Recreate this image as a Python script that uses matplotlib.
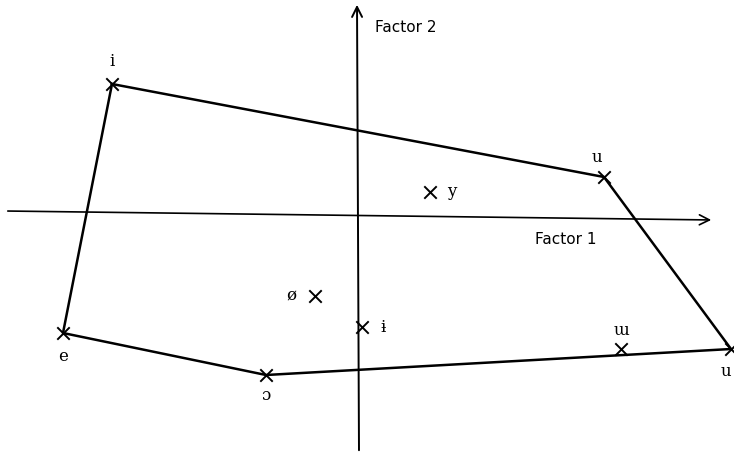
import matplotlib.pyplot as plt

# Puntuaciones factoriales (factor 1, factor 2) de cada vocal
vocales = ["i", "u", "y", "ø", "ɨ", "e", "ɔ", "ɯ", "u"]
factor1 = [-2.45, 2.47, 0.73, -0.42, 0.05, -2.94, -0.91, 2.64, 3.74]
factor2 = [1.29, 0.36, 0.21, -0.83, -1.14, -1.20, -1.62, -1.36, -1.36]

# contorno: i -> u -> u -> ɔ -> e -> i
contorno = [0, 1, 8, 6, 5, 0]

# desplazamiento de cada etiqueta respecto a su punto (en puntos)
offsets = [(0, 16), (-5, 14), (16, 0), (-17, 0), (15, 0), (0, -17), (0, -15), (0, 13), (-4, -16)]

fig = plt.figure(figsize=(7.34, 4.54), dpi=100)
ax = fig.add_axes([0, 0, 1, 1])
ax.set_xlim(-3.57, 3.77)
ax.set_ylim(-2.41, 2.13)
ax.axis("off")

# ejes con flechas
ax.annotate("", xy=(3.57, -0.07), xytext=(-3.52, 0.02),
            arrowprops=dict(arrowstyle="->", lw=1.2, color="black", mutation_scale=18))
ax.annotate("", xy=(0, 2.11), xytext=(0.02, -2.40),
            arrowprops=dict(arrowstyle="->", lw=1.4, color="black", mutation_scale=18))
ax.text(0.18, 1.85, "Factor 2", fontsize=11, va="center", ha="left")
ax.text(1.78, -0.27, "Factor 1", fontsize=11, va="center", ha="left")

# contorno de las vocales
ax.plot([factor1[k] for k in contorno], [factor2[k] for k in contorno],
        color="black", lw=1.8, zorder=2)

ax.scatter(factor1, factor2, marker="x", s=80, color="black", linewidths=1.4, zorder=3)

for v, x, y, off in zip(vocales, factor1, factor2, offsets):
    ax.annotate(v, (x, y), xytext=off, textcoords="offset points",
                ha="center", va="center", fontsize=12, family="DejaVu Serif")

fig.savefig("out.png", dpi=100)
